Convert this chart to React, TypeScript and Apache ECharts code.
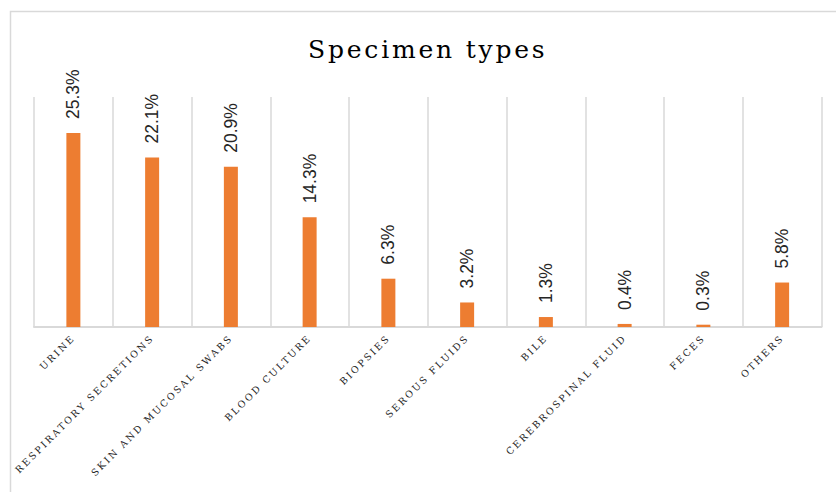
import React, { useEffect, useRef } from "react";
import * as echarts from "echarts";

const TITLE = "Specimen types";

const categories = [
  "URINE",
  "RESPIRATORY SECRETIONS",
  "SKIN AND MUCOSAL SWABS",
  "BLOOD CULTURE",
  "BIOPSIES",
  "SEROUS FLUIDS",
  "BILE",
  "CEREBROSPINAL FLUID",
  "FECES",
  "OTHERS",
];

const percentages = [25.3, 22.1, 20.9, 14.3, 6.3, 3.2, 1.3, 0.4, 0.3, 5.8];

const yMin = 0;
const yMax = 30;

const BAR_COLOR = "#ED7D31";
const GRID_COLOR = "#d9d9d9";

// widen the tracking of the serif texts (title and category names)
function applyTracking(root: HTMLElement | null) {
  if (!root) return;
  const texts = root.querySelectorAll("text");
  texts.forEach((t) => {
    const s = (t.textContent || "").trim();
    if (s === TITLE) {
      t.setAttribute("letter-spacing", "2.8px");
    } else if (categories.includes(s)) {
      t.setAttribute("letter-spacing", "2.25px");
    }
  });
}

export default function App() {
  const ref = useRef<HTMLDivElement>(null);

  useEffect(() => {
    if (!ref.current) return;
    const chart = echarts.init(ref.current, null, { renderer: "svg" });
    chart.setOption({
      animation: false,
      backgroundColor: "#ffffff",
      title: {
        text: TITLE,
        left: 303,
        top: 32,
        textStyle: {
          fontFamily: "DejaVu Serif",
          fontSize: 25,
          fontWeight: "normal",
          color: "#000000",
        },
      },
      graphic: [
        {
          type: "rect",
          left: 8,
          top: 9,
          shape: { x: 0, y: 0, width: 900, height: 600 },
          style: { fill: "none", stroke: GRID_COLOR, lineWidth: 1.5 },
          silent: true,
        },
      ],
      grid: {
        left: 34,
        right: 14.5,
        top: 97,
        bottom: 165,
        containLabel: false,
      },
      xAxis: {
        type: "category",
        data: categories,
        boundaryGap: true,
        axisLine: { show: true, lineStyle: { color: GRID_COLOR, width: 2 } },
        axisTick: { show: false },
        splitLine: { show: true, lineStyle: { color: GRID_COLOR, width: 1.5 } },
        axisLabel: {
          interval: 0,
          rotate: 45,
          margin: 9,
          fontFamily: "DejaVu Serif",
          fontSize: 9.5,
          color: "#262626",
        },
      },
      yAxis: {
        type: "value",
        min: yMin,
        max: yMax,
        show: false,
        splitLine: { show: false },
      },
      series: [
        {
          type: "bar",
          data: percentages,
          barWidth: 14,
          itemStyle: { color: BAR_COLOR },
          label: {
            show: true,
            position: "top",
            distance: 14,
            rotate: 90,
            align: "left",
            verticalAlign: "middle",
            fontFamily: "'Liberation Sans Narrow', 'Liberation Sans', sans-serif",
            fontSize: 17.5,
            color: "#262626",
            formatter: (p: any) => `${Number(p.value).toFixed(1)}%`,
          },
        },
      ],
    });
    applyTracking(ref.current);
    const onFinished = () => applyTracking(ref.current);
    chart.on("finished", onFinished);
    return () => {
      chart.off("finished", onFinished);
      chart.dispose();
    };
  }, []);

  return (
    <div
      ref={ref}
      style={{ position: "fixed", left: 0, top: 0, width: 836, height: 492 }}
    />
  );
}
